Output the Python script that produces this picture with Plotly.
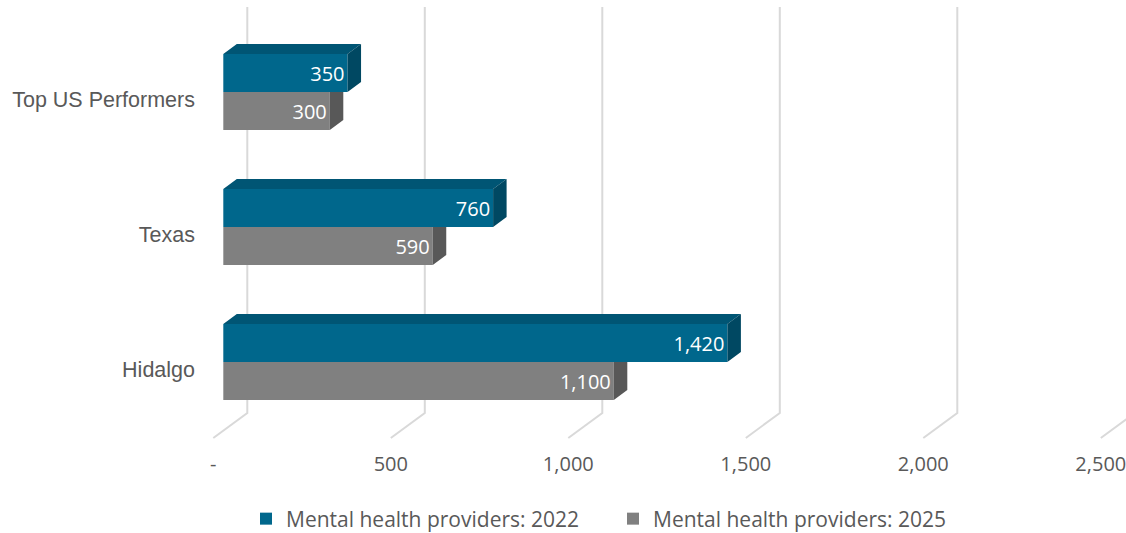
import plotly.graph_objects as go

# Data
CATEGORIES = ["Hidalgo", "Texas", "Top US Performers"]
PROVIDERS_2022 = [1420, 760, 350]
PROVIDERS_2025 = [1100, 590, 300]
SERIES_NAMES = ["Mental health providers: 2022", "Mental health providers: 2025"]
TICK_VALUES = [0, 500, 1000, 1500, 2000, 2500]
TICK_LABELS = ["-", "500", "1,000", "1,500", "2,000", "2,500"]

BLUE = "#00678C"
BLUE_TOP = "#005574"
BLUE_SIDE = "#004862"
GRAY = "#808080"
GRAY_SIDE = "#585858"
GRID = "#D9D9D9"
TEXT = "#595959"

W, H = 1126, 533

# geometry of the fake 3D look (px -> data units)
PX_X = 0.355  # px per unit on x
PX_Y = 135.0  # px per category
BAR_H = 38 / PX_Y
DEPTH_X = 13.5 / PX_X
DEPTH_Y = 10 / PX_Y
BACK_X = 24 / PX_X
FRONT_X = -10 / PX_X
GRID_TOP = 355 / PX_Y
FLOOR_BACK = -51 / PX_Y
FLOOR_FRONT = -76 / PX_Y

ZERO_PX = 223.3  # screen x of value 0 on the bar fronts
BASE_PX = 362.0  # screen y of the Hidalgo group centre
PLOT_L, PLOT_R, PLOT_T, PLOT_B = 200, 1126, 6, 450

X_RANGE = [(PLOT_L - ZERO_PX) / PX_X, (PLOT_R - ZERO_PX) / PX_X]
Y_RANGE = [(BASE_PX - PLOT_B) / PX_Y, (BASE_PX - PLOT_T) / PX_Y]

positions = list(range(len(CATEGORIES)))


def face_trace(polys, color):
    xs, ys = [], []
    for poly in polys:
        for px, py in poly:
            xs.append(px)
            ys.append(py)
        xs.append(poly[0][0])
        ys.append(poly[0][1])
        xs.append(None)
        ys.append(None)
    return go.Scatter(
        x=xs, y=ys, mode="lines", fill="toself", fillcolor=color,
        line=dict(width=0, color=color), hoverinfo="skip", showlegend=False,
    )


fig = go.Figure()

fig.add_trace(go.Bar(
    name=SERIES_NAMES[0], orientation="h", x=PROVIDERS_2022,
    y=[p + BAR_H / 2 for p in positions], width=BAR_H,
    marker=dict(color=BLUE, line=dict(width=0)),
    texttemplate="%{x:,}", textposition="inside", insidetextanchor="end",
    textangle=0, textfont=dict(color="white", size=20, family="Open Sans"),
))
fig.add_trace(go.Bar(
    name=SERIES_NAMES[1], orientation="h", x=PROVIDERS_2025,
    y=[p - BAR_H / 2 for p in positions], width=BAR_H,
    marker=dict(color=GRAY, line=dict(width=0)),
    texttemplate="%{x:,}", textposition="inside", insidetextanchor="end",
    textangle=0, textfont=dict(color="white", size=20, family="Open Sans"),
))

# side faces of the gray bars (only the part not hidden by the blue bars)
gray_side = []
for p, v in zip(positions, PROVIDERS_2025):
    bot = p - BAR_H
    gray_side.append([(v, p), (v + DEPTH_X, p), (v + DEPTH_X, bot + DEPTH_Y), (v, bot)])
fig.add_trace(face_trace(gray_side, GRAY_SIDE))

# top and side faces of the blue bars
blue_top, blue_side = [], []
for p, v in zip(positions, PROVIDERS_2022):
    top = p + BAR_H
    blue_top.append([(0, top), (v, top), (v + DEPTH_X, top + DEPTH_Y), (DEPTH_X, top + DEPTH_Y)])
    blue_side.append([(v, top), (v + DEPTH_X, top + DEPTH_Y), (v + DEPTH_X, p + DEPTH_Y), (v, p)])
fig.add_trace(face_trace(blue_top, BLUE_TOP))
fig.add_trace(face_trace(blue_side, BLUE_SIDE))

# back wall gridlines bending onto the floor
for t in TICK_VALUES:
    fig.add_shape(
        type="path", xref="x", yref="y", layer="below",
        path=f"M {t + BACK_X},{GRID_TOP} L {t + BACK_X},{FLOOR_BACK} L {t + FRONT_X},{FLOOR_FRONT}",
        line=dict(color=GRID, width=2),
    )

fig.update_layout(
    width=W, height=H,
    margin=dict(l=PLOT_L, r=W - PLOT_R, t=PLOT_T, b=H - PLOT_B),
    plot_bgcolor="white", paper_bgcolor="white",
    barmode="overlay",
    font=dict(family="Open Sans", color=TEXT, size=20),
    legend=dict(
        orientation="h", xref="container", yref="container",
        x=246 / W, xanchor="left", y=1 - 519 / H, yanchor="middle",
        font=dict(size=21, color=TEXT), traceorder="normal",
        entrywidth=322, entrywidthmode="pixels",
    ),
    xaxis=dict(
        range=X_RANGE, showgrid=False, zeroline=False, showline=False,
        tickvals=[t + FRONT_X for t in TICK_VALUES], ticktext=TICK_LABELS,
        ticks="", tickfont=dict(size=20, color=TEXT),
        ticklabeloverflow="allow", automargin=False,
    ),
    yaxis=dict(
        range=Y_RANGE, showgrid=False, zeroline=False, showline=False,
        tickvals=[p - 7.5 / PX_Y for p in positions], ticktext=CATEGORIES,
        ticks="", ticklabelstandoff=4, automargin=False,
        tickfont=dict(family="Liberation Sans", size=21.5, color=TEXT),
    ),
)

# drop the browser's default page margin so the figure fills the window
fig.write_html(
    "out.html",
    config={"displayModeBar": False},
    post_script="document.body.style.margin = '0';",
)
